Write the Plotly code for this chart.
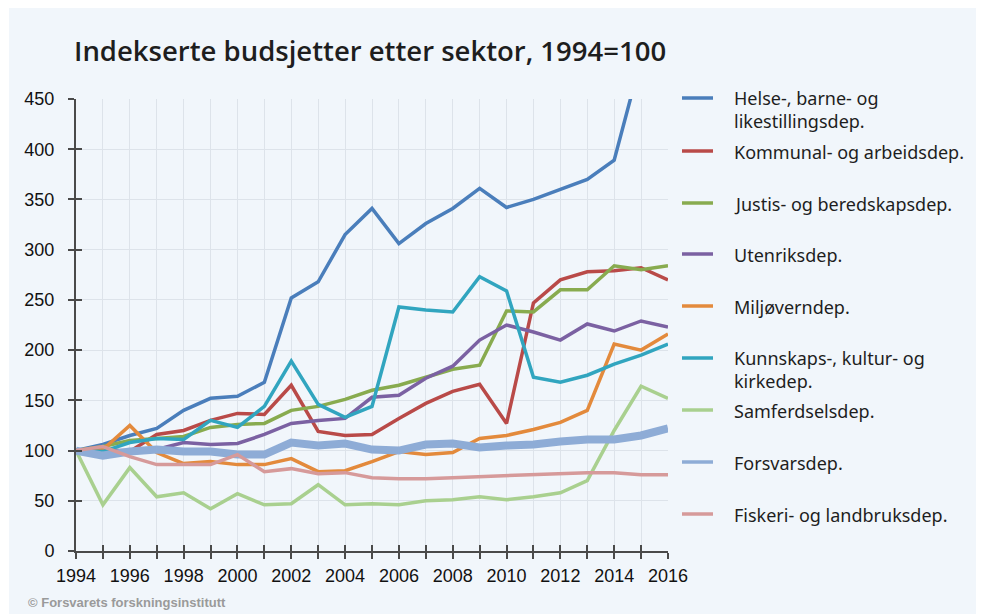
import plotly.graph_objects as go

years = list(range(1994, 2017))
year_labels = [str(y) if (y - 1994) % 2 == 0 else "" for y in years]

series_names = [
    "Helse-, barne- og<br>likestillingsdep.",
    "Kommunal- og arbeidsdep.",
    "Justis- og beredskapsdep.",
    "Utenriksdep.",
    "Miljøverndep.",
    "Kunnskaps-, kultur- og<br>kirkedep.",
    "Samferdselsdep.",
    "Forsvarsdep.",
    "Fiskeri- og landbruksdep.",
]

helse = [100, 106, 115, 122, 140, 152, 154, 168, 252, 268, 315, 341, 306, 326, 341, 361, 342, 350, 360, 370, 389, 490, 560]
kommunal = [100, 101, 99, 116, 120, 130, 137, 136, 165, 119, 115, 116, 132, 147, 159, 166, 127, 247, 270, 278, 279, 282, 270]
justis = [100, 104, 110, 112, 114, 123, 126, 127, 140, 144, 151, 160, 165, 173, 181, 185, 239, 238, 260, 260, 284, 280, 284]
utenriks = [100, 100, 100, 101, 108, 106, 107, 116, 127, 130, 132, 153, 155, 172, 184, 210, 225, 218, 210, 226, 219, 229, 223]
miljo = [100, 101, 125, 98, 87, 89, 86, 86, 92, 79, 80, 89, 99, 96, 98, 112, 115, 121, 128, 140, 206, 200, 216]
kunnskap = [100, 99, 108, 112, 111, 130, 123, 144, 189, 146, 133, 144, 243, 240, 238, 273, 259, 173, 168, 175, 186, 195, 206]
samferdsel = [100, 46, 83, 54, 58, 42, 57, 46, 47, 66, 46, 47, 46, 50, 51, 54, 51, 54, 58, 70, 120, 164, 152]
forsvar = [100, 95, 99, 101, 99, 99, 96, 96, 108, 105, 107, 101, 100, 106, 107, 103, 105, 106, 109, 111, 111, 115, 122]
fiskeri = [100, 104, 94, 86, 86, 86, 96, 79, 82, 77, 78, 73, 72, 72, 73, 74, 75, 76, 77, 78, 78, 76, 76]

all_values = [helse, kommunal, justis, utenriks, miljo, kunnskap, samferdsel, forsvar, fiskeri]
colors = ["#4a7ebb", "#b94a48", "#88ab4f", "#7b61a2", "#e38a3c", "#31a5bf", "#a9d08f", "#8eacd6", "#d69a9a"]
widths = [3.5, 3.5, 3.5, 3.5, 3.5, 3.5, 3.5, 8, 3.5]

y_ticks = list(range(0, 451, 50))

# the page body has an 8px margin: figure origin sits at (8, 8) of the window
OFF = 8
W, H = 984 - OFF, 614 - OFF
L, R, T, B = 76 - OFF, 668 - OFF, 99 - OFF, 551 - OFF
BG = "#f1f6fb"


def px(x):
    return (x - OFF - L) / (R - L)


def py(y):
    return (B - (y - OFF)) / (B - T)


fig = go.Figure()
for name, vals, col, w in zip(series_names, all_values, colors, widths):
    fig.add_trace(go.Scatter(x=years, y=vals, mode="lines", name=name,
                             line=dict(color=col, width=w), showlegend=False,
                             hoverinfo="skip"))

# invisible trace to activate overlay axes (inside tick marks)
fig.add_trace(go.Scatter(x=[years[0]], y=[0], xaxis="x2", yaxis="y2", mode="markers",
                         marker=dict(opacity=0), showlegend=False, hoverinfo="skip"))

shapes = [dict(type="rect", xref="paper", yref="paper", x0=px(9), x1=px(979), y0=py(620), y1=py(8),
               fillcolor=BG, line=dict(width=0), layer="below")]
annotations = []

legend_y = [98, 151, 203, 254, 306, 358, 410, 462, 514]
for name, col, ly in zip(series_names, colors, legend_y):
    shapes.append(dict(type="line", xref="paper", yref="paper", x0=px(682), x1=px(713),
                       y0=py(ly), y1=py(ly), line=dict(color=col, width=3.5)))
    if "<br>" in name:
        annotations.append(dict(xref="paper", yref="paper", x=px(732), y=py(ly - 14), text=name,
                                showarrow=False, xanchor="left", yanchor="top", align="left",
                                font=dict(family="Noto Sans", size=18, color="#1e1e1e")))
    else:
        annotations.append(dict(xref="paper", yref="paper", x=px(732), y=py(ly + 1), text=name,
                                showarrow=False, xanchor="left", yanchor="middle", align="left",
                                font=dict(family="Noto Sans", size=18, color="#1e1e1e")))

annotations.append(dict(xref="paper", yref="paper", x=px(72), y=py(50),
                        text="Indekserte budsjetter etter sektor, 1994=100", showarrow=False,
                        xanchor="left", yanchor="middle",
                        font=dict(family="Open Sans", size=27.5, color="#1e1e1e", weight=600)))
annotations.append(dict(xref="paper", yref="paper", x=px(26), y=py(602),
                        text="© Forsvarets forskningsinstitutt", showarrow=False,
                        xanchor="left", yanchor="middle",
                        font=dict(family="Arial, Liberation Sans", size=13, color="#9a9a9a", weight="bold")))

axis_col = "#4a4a4a"
fig.update_layout(
    width=W, height=H,
    margin=dict(l=L, r=W - R, t=T, b=H - B, pad=0),
    paper_bgcolor="white",
    plot_bgcolor=BG,
    shapes=shapes,
    annotations=annotations,
    font=dict(family="Arial, Liberation Sans", size=18, color="#111"),
    xaxis=dict(range=[1994, 2016], tickvals=years, ticktext=year_labels, showgrid=True,
               gridcolor="#dde3ea", gridwidth=1, zeroline=False, showline=True,
               linecolor=axis_col, linewidth=2, ticks="outside", ticklen=6, tickwidth=2,
               tickcolor=axis_col, ticklabelstandoff=1,
               tickfont=dict(family="Arial, Liberation Sans", size=18, color="#111")),
    yaxis=dict(range=[0, 450], tickvals=y_ticks, showgrid=True, gridcolor="#dde3ea",
               gridwidth=1, zeroline=False, showline=True, linecolor=axis_col, linewidth=2,
               ticks="outside", ticklen=6, tickwidth=2, tickcolor=axis_col,
               ticklabelstandoff=10,
               tickfont=dict(family="Arial, Liberation Sans", size=18, color="#111")),
    xaxis2=dict(range=[1994, 2016], overlaying="x", anchor="y2", side="bottom",
                tickvals=years, ticks="inside", ticklen=6, tickwidth=2, tickcolor=axis_col,
                showticklabels=False, showgrid=False, zeroline=False, showline=False),
    yaxis2=dict(range=[0, 450], overlaying="y", anchor="x2", side="left",
                tickvals=y_ticks, ticks="inside", ticklen=6, tickwidth=2, tickcolor=axis_col,
                showticklabels=False, showgrid=False, zeroline=False, showline=False),
)

fig.write_html("out.html")
